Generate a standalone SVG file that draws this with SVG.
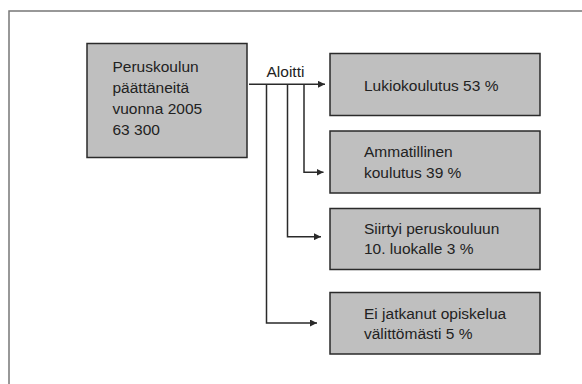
<svg xmlns="http://www.w3.org/2000/svg" width="582" height="384" viewBox="0 0 582 384">
<defs>
<style>
.box{fill:#bfbfbf;stroke:#2a2a2a;stroke-width:1.5}
.t{font-family:"Liberation Sans",Arial,sans-serif;font-size:15.5px;fill:#222}
.c{fill:none;stroke:#2a2a2a;stroke-width:1.5}
</style>
<marker id="ah" viewBox="0 0 10 10" refX="10" refY="5" markerWidth="7" markerHeight="7" markerUnits="userSpaceOnUse" orient="auto">
<path d="M0,0 L10,5 L0,10 Z" fill="#2a2a2a"/>
</marker>
</defs>
<rect width="582" height="384" fill="#fff"/>
<rect x="9" y="11" width="620" height="420" fill="none" stroke="#777" stroke-width="1.5"/>
<g id="source">
<rect class="box" x="87" y="43.5" width="160" height="114"/>
<text class="t" x="112.5" y="72">Peruskoulun</text>
<text class="t" x="112.5" y="93">päättäneitä</text>
<text class="t" x="112.5" y="114">vuonna 2005</text>
<text class="t" x="112.5" y="135">63 300</text>
</g>
<g id="b1">
<rect class="box" x="330" y="53.5" width="210" height="62"/>
<text class="t" x="364" y="90.5">Lukiokoulutus 53 %</text>
</g>
<g id="b2">
<rect class="box" x="330" y="131" width="210" height="62"/>
<text class="t" x="364" y="157">Ammatillinen</text>
<text class="t" x="364" y="178">koulutus 39 %</text>
</g>
<g id="b3">
<rect class="box" x="330" y="208.5" width="210" height="61"/>
<text class="t" x="364" y="233.5">Siirtyi peruskouluun</text>
<text class="t" x="364" y="254">10. luokalle 3 %</text>
</g>
<g id="b4">
<rect class="box" x="330" y="292.5" width="210" height="61.5"/>
<text class="t" x="364" y="318.5">Ei jatkanut opiskelua</text>
<text class="t" x="364" y="339">välittömästi 5 %</text>
</g>
<g id="connectors">
<text class="t" x="266.5" y="76.7">Aloitti</text>
<path class="c" d="M249,84.3 H325" marker-end="url(#ah)"/>
<path class="c" d="M304,84.3 V172.3 H323.5" marker-end="url(#ah)"/>
<path class="c" d="M287.5,84.3 V236.7 H321" marker-end="url(#ah)"/>
<path class="c" d="M266.5,84.3 V323 H317" marker-end="url(#ah)"/>
</g>
</svg>
